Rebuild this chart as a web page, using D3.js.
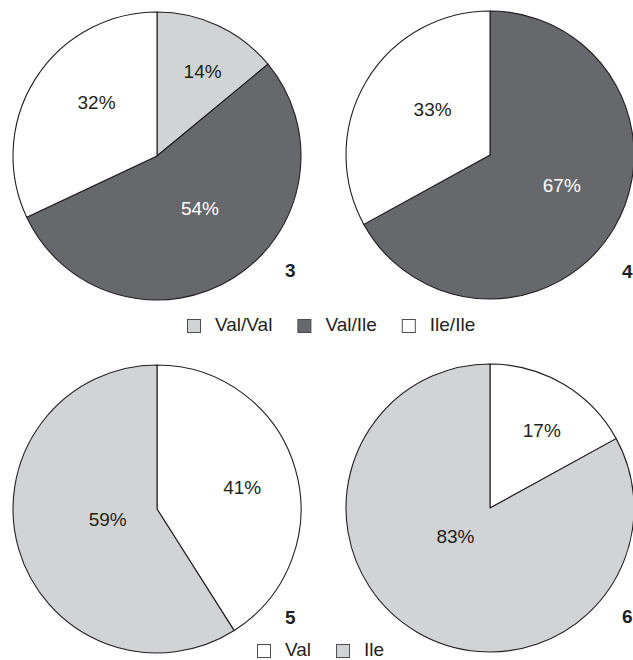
<!DOCTYPE html>
<html>
<head>
<meta charset="utf-8">
<script src="https://cdn.jsdelivr.net/npm/d3@7"></script>
<style>
  body { margin: 0; background: #fff; }
  svg { display: block; font-family: "Liberation Sans", Arial, sans-serif; }
  .slice-label { font-size: 19px; }
  .panel-num { font-size: 19px; font-weight: bold; fill: #231f20; }
  .legend-text { font-size: 19px; fill: #231f20; }
</style>
</head>
<body>
<div id="chart"></div>
<script>
// genotype pies (panels 3 and 4)
const genotypes = ['Val/Val', 'Val/Ile', 'Ile/Ile'];
const panel3 = [14, 54, 32];
const panel4 = [0, 67, 33];

// allele pies (panels 5 and 6)
const alleles = ['Val', 'Ile'];
const panel5 = [41, 59];
const panel6 = [17, 83];

const panelNames = ['3', '4', '5', '6'];

const width = 633, height = 660;
const radius = 144;

const svg = d3.select('#chart').append('svg')
  .attr('width', width)
  .attr('height', height);

const genoColour = d3.scaleOrdinal().domain(genotypes).range(['#d1d3d4', '#67686c', '#ffffff']);
const alleleColour = d3.scaleOrdinal().domain(alleles).range(['#ffffff', '#d1d3d4']);

// label placement: [angle nudge in degrees from slice middle, fraction of radius]
const panels = [
  { name: panelNames[0], cx: 157, cy: 156, cats: genotypes, vals: panel3, colour: genoColour, numDx: 128, numDy: 121,
    lab: [[3, 0.67], [-7, 0.47], [9, 0.56]] },
  { name: panelNames[1], cx: 490, cy: 155, cats: genotypes, vals: panel4, colour: genoColour, numDx: 132, numDy: 123,
    lab: [[0, 0.5], [-8, 0.54], [8, 0.51]] },
  { name: panelNames[2], cx: 157, cy: 509, cats: alleles, vals: panel5, colour: alleleColour, numDx: 128, numDy: 115,
    lab: [[2, 0.61], [4, 0.35]] },
  { name: panelNames[3], cx: 490, cy: 508, cats: alleles, vals: panel6, colour: alleleColour, numDx: 132, numDy: 115,
    lab: [[3, 0.65], [20, 0.31]] }
];

const pie = d3.pie().sort(null).value(d => d.value);
const arc = d3.arc().innerRadius(0).outerRadius(radius);

panels.forEach(p => {
  const data = p.cats.map((c, i) => ({ cat: c, value: p.vals[i], lab: p.lab[i] }));
  const arcs = pie(data).filter(d => d.data.value > 0);

  const g = svg.append('g').attr('transform', `translate(${p.cx},${p.cy})`);

  g.selectAll('path')
    .data(arcs)
    .join('path')
    .attr('d', arc)
    .attr('fill', d => p.colour(d.data.cat))
    .attr('stroke', '#231f20')
    .attr('stroke-width', 1.1)
    .attr('stroke-linejoin', 'round');

  g.selectAll('text.slice-label')
    .data(arcs)
    .join('text')
    .attr('class', 'slice-label')
    .attr('transform', d => {
      const r = radius * d.data.lab[1];
      const a = (d.startAngle + d.endAngle) / 2 + d.data.lab[0] * Math.PI / 180;
      return `translate(${Math.sin(a) * r},${-Math.cos(a) * r})`;
    })
    .attr('text-anchor', 'middle')
    .attr('dy', '0.35em')
    .attr('fill', d => d.data.cat === 'Val/Ile' ? '#ffffff' : '#231f20')
    .text(d => d.data.value + '%');

  g.append('text')
    .attr('class', 'panel-num')
    .attr('x', p.numDx)
    .attr('y', p.numDy)
    .text(p.name);
});

// legends
function legend(items, colour, x0, y0) {
  const lg = svg.append('g').attr('transform', `translate(${x0},${y0})`);
  let x = 0;
  items.forEach(item => {
    lg.append('rect')
      .attr('x', x + 0.5)
      .attr('y', 0.5)
      .attr('width', 13)
      .attr('height', 13)
      .attr('fill', colour(item))
      .attr('stroke', '#4d4d4f')
      .attr('stroke-width', 1);
    const t = lg.append('text')
      .attr('class', 'legend-text')
      .attr('x', x + 28)
      .attr('y', 12)
      .text(item);
    x += 28 + t.node().getComputedTextLength() + 25;
  });
}

legend(genotypes, genoColour, 187, 319);
legend(alleles, alleleColour, 257, 644);
</script>
</body>
</html>
